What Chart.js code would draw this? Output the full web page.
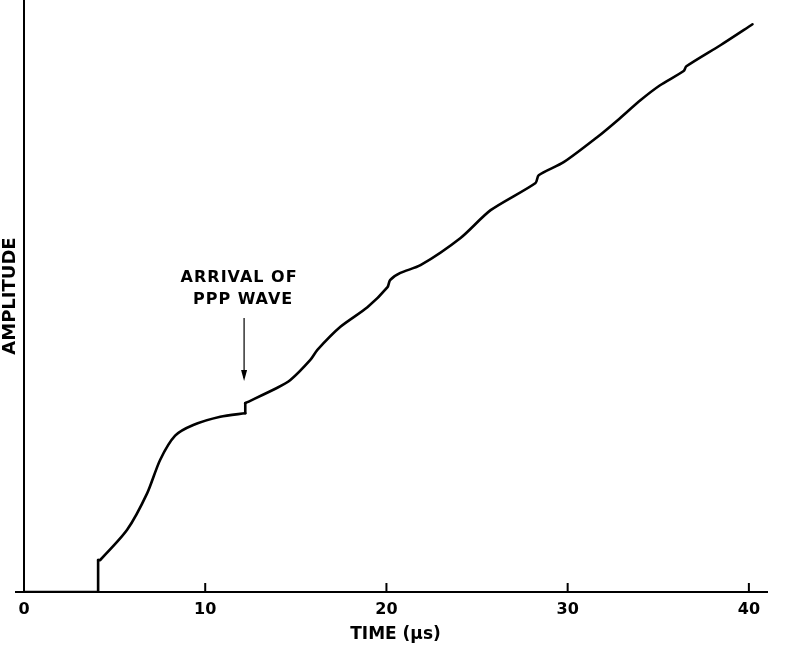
<!DOCTYPE html>
<html>
<head>
<meta charset="utf-8">
<script src="https://cdn.jsdelivr.net/npm/chart.js@4.4.1/dist/chart.umd.min.js"></script>
<style>
  html, body { margin: 0; padding: 0; background: #fff; }
  #wrap { width: 800px; height: 649px; }
</style>
</head>
<body>
<div id="wrap"><canvas id="myChart1"></canvas></div>
<script>
// time in microseconds, amplitude in arbitrary units
const timeUs = [0, 4.09, 4.09, 4.2, 5.69, 6.8, 7.51, 8.34, 9.34, 10.83, 12.21, 12.21,
  13.98, 14.7, 15.8, 16.19, 17.46, 18.95, 20.06, 20.2, 20.77, 21.88, 24.09, 25.75,
  28.23, 28.4, 29.78, 31.66, 32.76, 34.03, 35.1, 36.4, 36.55, 38.45, 40.2];
const amplitude = [0, 0, 5.4, 5.4, 10.5, 16.7, 22.3, 26.4, 28.2, 29.6, 30.2, 31.9,
  34.5, 35.8, 39.2, 40.9, 44.8, 48.1, 51.5, 52.7, 53.9, 55.2, 59.8, 64.5,
  69.1, 70.4, 72.6, 76.9, 79.7, 83.1, 85.6, 88.0, 88.8, 92.4, 95.9];
const xTicks = [0, 10, 20, 30, 40];
const arrivalTime = 12.2;
const arrivalText = ['ARRIVAL OF', 'PPP WAVE'];

const fam = '"DejaVu Sans", "Liberation Sans", sans-serif';

// split the trace at the vertical steps so the smooth parts don't loop
let datasets = [];
function addPiece(from, to, tension) {
  let pts = [];
  for (let i = from; i <= to; i++) pts.push({ x: timeUs[i], y: amplitude[i] });
  datasets.push({
    data: pts,
    borderColor: '#000',
    borderWidth: 2.6,
    pointRadius: 0,
    tension: tension,
    fill: false,
    borderCapStyle: 'round',
    borderJoinStyle: 'round'
  });
}
let start = 0;
for (let i = 1; i < timeUs.length; i++) {
  if (timeUs[i] === timeUs[i - 1]) {
    addPiece(start, i - 1, 0.25);
    addPiece(i - 1, i, 0);
    start = i;
  }
}
addPiece(start, timeUs.length - 1, 0.25);

// ticks on this plot point up into the chart, and the arrow note
const extras = {
  id: 'extras',
  afterDraw(chart) {
    const ctx = chart.ctx;
    const xs = chart.scales.x;
    const ys = chart.scales.y;
    ctx.save();
    ctx.strokeStyle = '#000';
    ctx.lineWidth = 2;
    xTicks.forEach(v => {
      if (v === 0) return;
      const px = xs.getPixelForValue(v);
      ctx.beginPath();
      ctx.moveTo(px, ys.bottom);
      ctx.lineTo(px, ys.bottom - 9);
      ctx.stroke();
    });
    // x axis runs a bit left of the y axis
    ctx.beginPath();
    ctx.moveTo(xs.left - 9, ys.bottom);
    ctx.lineTo(xs.left, ys.bottom);
    ctx.stroke();

    const ax = xs.getPixelForValue(arrivalTime);
    ctx.fillStyle = '#000';
    ctx.font = 'bold 16px ' + fam;
    ctx.letterSpacing = '1px';
    ctx.textAlign = 'center';
    ctx.textBaseline = 'middle';
    ctx.fillText(arrivalText[0], ax - 6, 278);
    ctx.fillText(arrivalText[1], ax - 2, 300);
    ctx.lineWidth = 1.2;
    ctx.beginPath();
    ctx.moveTo(ax - 1, 318);
    ctx.lineTo(ax - 1, 378);
    ctx.stroke();
    ctx.beginPath();
    ctx.moveTo(ax - 4, 370);
    ctx.lineTo(ax - 1, 381);
    ctx.lineTo(ax + 2, 370);
    ctx.closePath();
    ctx.fill();
    ctx.restore();
  }
};

new Chart(document.getElementById('myChart1'), {
  type: 'line',
  data: { datasets: datasets },
  options: {
    responsive: true,
    maintainAspectRatio: false,
    animation: false,
    layout: { padding: { top: 0, right: 33, left: 0, bottom: 0 } },
    plugins: { legend: { display: false }, tooltip: { enabled: false } },
    scales: {
      x: {
        type: 'linear',
        min: 0,
        max: 41,
        afterBuildTicks: s => { s.ticks = xTicks.map(v => ({ value: v })); },
        afterFit: s => { s.height = 57; },
        grid: { display: false, drawTicks: false },
        border: { display: true, color: '#000', width: 2 },
        ticks: { color: '#000', font: { family: fam, size: 16, weight: 'bold' }, padding: 8, maxRotation: 0 },
        title: { display: true, text: 'TIME (μs)', color: '#000', font: { family: fam, size: 17, weight: 'bold' }, padding: 4 }
      },
      y: {
        min: 0,
        max: 100,
        afterFit: s => { s.width = 24; },
        grid: { display: false, drawTicks: false },
        border: { display: true, color: '#000', width: 2 },
        ticks: { display: false },
        title: { display: true, text: 'AMPLITUDE', color: '#000', font: { family: fam, size: 18, weight: 'bold' }, padding: 0 }
      }
    }
  },
  plugins: [extras]
});
</script>
</body>
</html>
